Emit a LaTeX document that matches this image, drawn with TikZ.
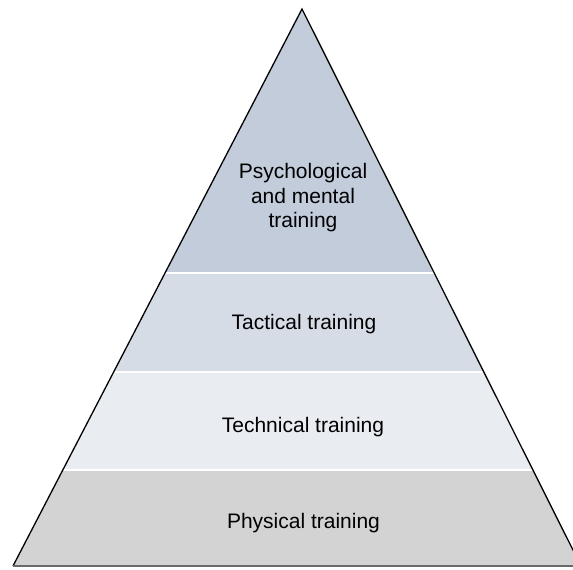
\documentclass[tikz,border=0pt]{standalone}
\usepackage{fontspec}
\setmainfont{Liberation Sans}
\definecolor{topc}{RGB}{195,204,219}
\definecolor{tacc}{RGB}{214,220,230}
\definecolor{tecc}{RGB}{233,236,241}
\definecolor{phyc}{RGB}{211,211,211}
\definecolor{basec}{RGB}{105,105,105}
\begin{document}
\begin{tikzpicture}[x=1pt,y=-1pt,
  lbl/.style={anchor=base, font=\fontsize{21}{24.5}\selectfont, align=center, inner sep=0pt},
  sepline/.style={draw=white, line width=1.5pt},
  side/.style={draw=black, line width=1.3pt, line join=miter},
  baseline/.style={draw=basec, line width=2.5pt}]
\useasboundingbox (0,0) rectangle (573,570);
\coordinate (apex) at (302,9);
\coordinate (bl) at (13,566);
\coordinate (br) at (581,566);
\begin{scope}
  \clip (0,0) rectangle (573,570);
  \begin{scope}
    \clip (apex) -- (bl) -- (br) -- cycle;
    \fill[topc] (0,0) rectangle (600,273);
    \fill[tacc] (0,273) rectangle (600,372);
    \fill[tecc] (0,372) rectangle (600,470);
    \fill[phyc] (0,470) rectangle (600,570);
    \draw[sepline] (0,273) -- (600,273);
    \draw[sepline] (0,372) -- (600,372);
    \draw[sepline] (0,470) -- (600,470);
  \end{scope}
  \draw[side] (bl) -- (apex) -- (br);
  \draw[baseline] (bl) -- (br);
\end{scope}
\node[lbl, anchor=center] (psy) at (303,198) {Psychological\\and mental\\training};
\node[lbl] (tac) at (304,329) {Tactical training};
\node[lbl] (tec) at (303,432) {Technical training};
\node[lbl] (phy) at (303.5,528) {Physical training};
\end{tikzpicture}
\end{document}
